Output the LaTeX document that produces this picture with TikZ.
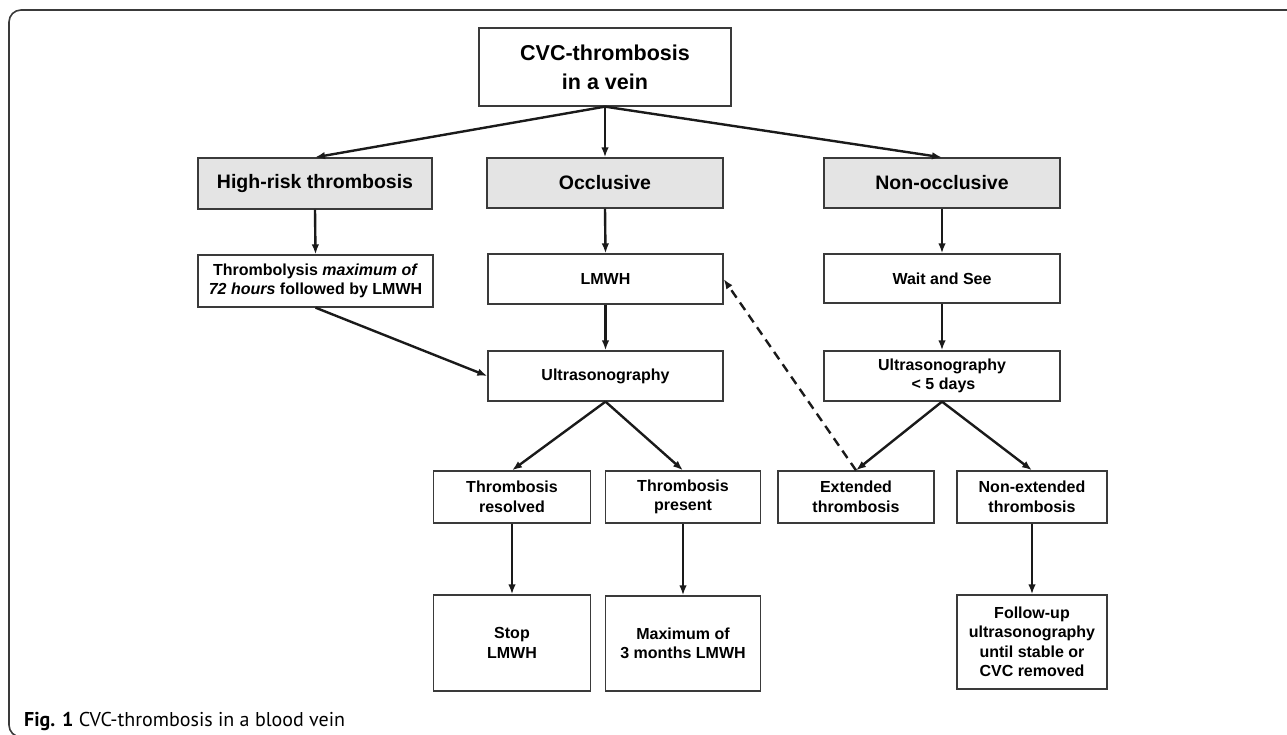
\documentclass[tikz,border=0pt]{standalone}
\usepackage{fontspec}
\setmainfont{Liberation Sans}
\newfontfamily\capfont{PT Sans}
\usetikzlibrary{arrows.meta}
\definecolor{boxline}{HTML}{3A3A3A}
\definecolor{greyfill}{HTML}{E4E4E4}
\definecolor{arrowcol}{HTML}{1A1A1A}
\tikzset{
  box/.style={draw=boxline, line width=1.3pt, fill=white, rectangle, inner sep=0pt, align=center,
    font=\fontsize{16}{19.5}\selectfont\bfseries},
  greybox/.style={box, fill=greyfill, font=\fontsize{19.5}{24}\selectfont\bfseries},
  topbox/.style={box, font=\fontsize{21.5}{29}\selectfont\bfseries},
  arr/.style={draw=arrowcol, line width=2.4pt, -{Latex[length=10pt,width=7.5pt]}},
  dasharr/.style={arr, dash pattern=on 9pt off 6pt},
}
\begin{document}
\begin{tikzpicture}[x=1pt,y=-1pt]
\useasboundingbox (0,0) rectangle (1287,735);
\draw[draw=boxline, line width=1.6pt, rounded corners=12pt] (9,10) rectangle (1300,737);
% nodes
\node[topbox, minimum width=252pt, minimum height=78pt] (top) at (605,67) {CVC-thrombosis\\in a vein};
\node[greybox, minimum width=234pt, minimum height=51pt] (hr) at (315,183.5) {High-risk thrombosis};
\node[greybox, minimum width=236pt, minimum height=50pt] (occ) at (605,183) {Occlusive};
\node[greybox, minimum width=236pt, minimum height=50pt] (non) at (942,183) {Non-occlusive};
\node[box, minimum width=235pt, minimum height=52pt] (thr) at (315.5,281) {Thrombolysis \textit{maximum of}\\\textit{72 hours} followed by LMWH};
\node[box, minimum width=235pt, minimum height=50pt] (lmwh) at (605.5,279) {LMWH};
\node[box, minimum width=236pt, minimum height=49pt] (wait) at (942,278.5) {Wait and See};
\node[box, minimum width=235pt, minimum height=50pt] (us) at (605.5,376) {Ultrasonography};
\node[box, minimum width=236pt, minimum height=50pt] (us5) at (942,376) {Ultrasonography\\\hspace*{3pt}{<} 5 days};
\node[box, minimum width=157pt, minimum height=52pt] (res) at (512,497) {Thrombosis\\resolved};
\node[box, minimum width=155pt, minimum height=52pt] (pres) at (683,497) {Thrombosis\\present};
\node[box, minimum width=156pt, minimum height=52pt] (ext) at (856,497) {Extended\\thrombosis};
\node[box, minimum width=150pt, minimum height=52pt] (nonext) at (1032,497) {Non-extended\\thrombosis};
\node[box, minimum width=157pt, minimum height=96pt] (stop) at (512,643) {Stop\\LMWH};
\node[box, minimum width=155pt, minimum height=95pt] (max) at (683,643.5) {Maximum of\\3 months LMWH};
\node[box, minimum width=150pt, minimum height=94pt] (fol) at (1032,642) {Follow-up\\ultrasonography\\until stable or\\CVC removed};
\node[anchor=west, inner sep=0pt, font=\capfont\fontsize{20}{24}\selectfont] (cap) at (24,721) {\textbf{Fig. 1} CVC-thrombosis in a blood vein};
% connectors
\draw[arr] (top.south) -- (hr.north);
\draw[arr] (top.south) -- (occ.north);
\draw[arr] (top.south) -- (non.north);
\draw[arr] (hr.south) -- (thr.north);
\draw[arr] (occ.south) -- (lmwh.north);
\draw[arr] (non.south) -- (wait.north);
\draw[arr] (thr.south) -- (us.west);
\draw[arr] (lmwh.south) -- (us.north);
\draw[arr] (wait.south) -- (us5.north);
\draw[arr] (us.south) -- (res.north);
\draw[arr] (us.south) -- (pres.north);
\draw[arr] (us5.south) -- (ext.north);
\draw[arr] (us5.south) -- (nonext.north);
\draw[dasharr] (ext.north) -- (lmwh.east);
\draw[arr] (res.south) -- (stop.north);
\draw[arr] (pres.south) -- (max.north);
\draw[arr] (nonext.south) -- (fol.north);
\end{tikzpicture}
\end{document}
